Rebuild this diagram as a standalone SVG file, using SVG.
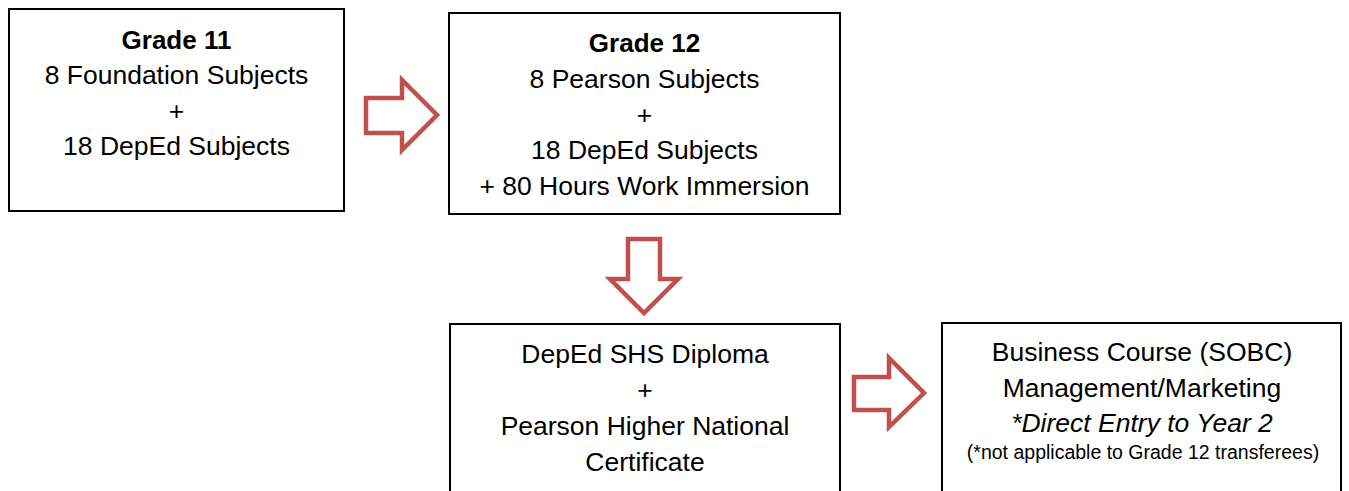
<svg xmlns="http://www.w3.org/2000/svg" width="1349" height="491" viewBox="0 0 1349 491">
<style>
.box{fill:#fff;stroke:#000;stroke-width:2}
.arr{fill:#fff;stroke:#C0504D;stroke-width:4.5;stroke-linejoin:miter}
text{font-family:"Liberation Sans",Arial,sans-serif;font-size:26.5px;fill:#000;text-anchor:middle}
.b{font-weight:bold;font-size:26px}
.i{font-style:italic}
.s{font-size:19.5px}
</style>
<rect width="1349" height="491" fill="#fff"/>
<g id="connectors">
<path class="arr" d="M366,98 H402 V80 L437,115 L402,150 V133 H366 Z"/>
<path class="arr" d="M628,239 V279 H610 L644,313 L678,279 H660 V239 Z"/>
<path class="arr" d="M854,377 H889 V358 L924,393 L889,427 V410 H854 Z"/>
</g>
<g id="grade11">
<rect class="box" x="9" y="9" width="335" height="202"/>
<text x="176.5" y="49" class="b">Grade 11</text>
<text x="176.5" y="84">8 Foundation Subjects</text>
<text x="176.5" y="120">+</text>
<text x="176.5" y="155">18 DepEd Subjects</text>
</g>
<g id="grade12">
<rect class="box" x="449" y="13" width="391" height="201"/>
<text x="644.5" y="52" class="b">Grade 12</text>
<text x="644.5" y="88">8 Pearson Subjects</text>
<text x="644.5" y="124">+</text>
<text x="644.5" y="159">18 DepEd Subjects</text>
<text x="644.5" y="195">+ 80 Hours Work Immersion</text>
</g>
<g id="diploma">
<rect class="box" x="450" y="324" width="390" height="190"/>
<text x="645" y="363">DepEd SHS Diploma</text>
<text x="645" y="399">+</text>
<text x="645" y="435">Pearson Higher National</text>
<text x="645" y="471">Certificate</text>
</g>
<g id="business">
<rect class="box" x="942" y="323" width="399" height="190"/>
<text x="1142" y="361">Business Course (SOBC)</text>
<text x="1142" y="397">Management/Marketing</text>
<text x="1142" y="432" class="i">*Direct Entry to Year 2</text>
<text x="1143" y="459" class="s">(*not applicable to Grade 12 transferees)</text>
</g>
</svg>
